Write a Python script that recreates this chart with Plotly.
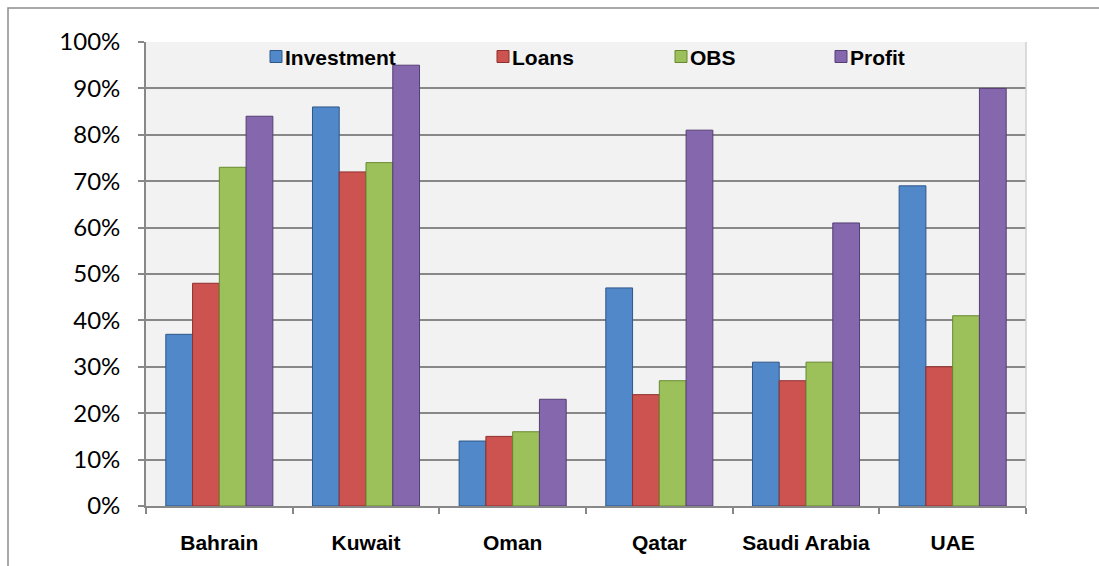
import plotly.graph_objects as go

# Share of institutions reporting each risk category, by country
countries = ["Bahrain", "Kuwait", "Oman", "Qatar", "Saudi Arabia", "UAE"]
investment = [37, 86, 14, 47, 31, 69]
loans = [48, 72, 15, 24, 27, 30]
obs = [73, 74, 16, 27, 31, 41]
profit = [84, 95, 23, 81, 61, 90]
y_ticks = [0, 10, 20, 30, 40, 50, 60, 70, 80, 90, 100]
y_tick_labels = [f"{v}%" for v in y_ticks]

W, H = 1099, 566
L, R, T, B = 146, 1026, 42, 506  # plot-area edges in pixels


def px_x(p):
    return (p - L) / (R - L)


def px_y(p):
    return (B - p) / (B - T)


# name, values, fill, edge, legend swatch left edge (px)
series = [
    ("Investment", investment, "#5188CA", "#2E5688", 270),
    ("Loans", loans, "#CD5350", "#8E302D", 497),
    ("OBS", obs, "#9CC15A", "#67882E", 675),
    ("Profit", profit, "#8467AC", "#553E73", 835),
]

fig = go.Figure()
for name, vals, fill, edge, _ in series:
    fig.add_trace(go.Bar(
        name=name, x=countries, y=vals,
        marker=dict(color=fill, line=dict(color=edge, width=1)),
    ))

# key along the top band of the plot area
legend_font = dict(family="Liberation Sans, Arial", size=21, color="#000000", weight="bold")
for name, _, fill, edge, sx in series:
    fig.add_shape(type="rect", xref="paper", yref="paper",
                  x0=px_x(sx), x1=px_x(sx + 12), y0=px_y(62.5), y1=px_y(50.5),
                  fillcolor=fill, line=dict(color=edge, width=1), layer="above")
    fig.add_annotation(text=name, xref="paper", yref="paper",
                       x=px_x(sx + 14), y=px_y(57), xanchor="left", yanchor="middle",
                       showarrow=False, font=legend_font, borderpad=0)

fig.update_layout(
    width=W, height=H,
    margin=dict(l=L, r=W - R, t=T, b=H - B, pad=0),
    paper_bgcolor="#FFFFFF",
    plot_bgcolor="#F2F2F2",
    barmode="group",
    bargap=0.27,
    bargroupgap=0,
    showlegend=False,
)

fig.update_yaxes(
    range=[0, 100],
    tickvals=y_ticks, ticktext=y_tick_labels,
    showgrid=True, gridcolor="#888888", gridwidth=1.8,
    showline=True, linecolor="#888888", linewidth=1.8,
    ticks="outside", ticklen=6, tickcolor="#888888", tickwidth=1.8,
    ticklabelstandoff=13,
    tickfont=dict(family="Lato, Carlito, Calibri", size=24, color="#000000"),
    zeroline=False,
)
fig.update_xaxes(
    showline=True, linecolor="#888888", linewidth=1.8,
    ticks="outside", ticklen=6, tickcolor="#888888", tickwidth=1.8,
    tickson="boundaries",
    ticklabelstandoff=17,
    tickfont=dict(family="Liberation Sans, Arial", size=21, color="#000000", weight="bold"),
    showgrid=False,
)

# right edge of plot area and outer chart frame
fig.add_shape(type="line", xref="paper", yref="paper", x0=1, x1=1, y0=0, y1=1,
              line=dict(color="#D0D0D0", width=1.5), layer="above")
fig.add_shape(type="rect", xref="paper", yref="paper",
              x0=px_x(8), x1=px_x(W + 20), y0=px_y(H + 20), y1=px_y(8),
              line=dict(color="#8C8C8C", width=1.5), fillcolor="rgba(0,0,0,0)", layer="below")

fig.write_html("out.html")
